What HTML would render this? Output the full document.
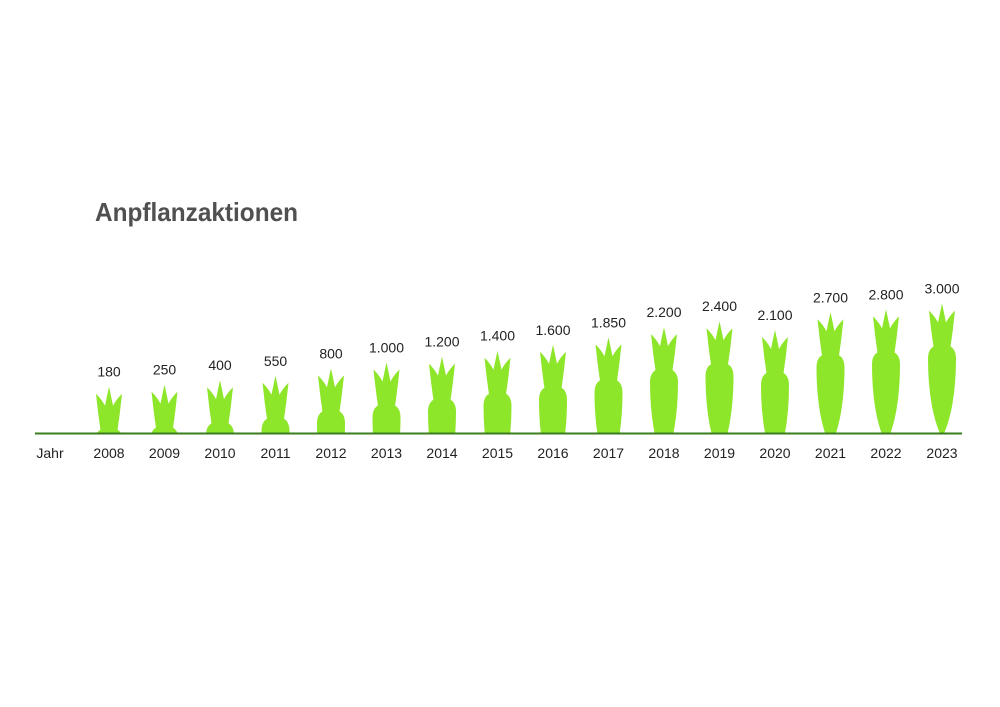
<!DOCTYPE html>
<html><head><meta charset="utf-8"><style>
html,body{margin:0;padding:0;background:#fff;}
svg{display:block;}
text{font-family:"Liberation Sans",sans-serif;}
</style></head><body>
<svg width="1000" height="707" viewBox="0 0 1000 707" xmlns="http://www.w3.org/2000/svg">
<defs>
<clipPath id="c"><rect x="0" y="0" width="1000" height="433"/></clipPath>
<g id="k">
<path d="M-8,6 Q-11,-14 -13,-34 Q-7,-28 -4,-22 Q-2,-32 0,-41 Q2,-32 4,-22 Q7,-28 13,-34 Q11,-14 8,6 Z" fill="#8ee62a"/>
<path d="M-14,14 Q-14,0 0,0 Q14,0 14,14 Q14,40 10,62 Q6,82 0,93 Q-6,82 -10,62 Q-14,40 -14,14 Z" fill="#8ee62a"/>
</g>
</defs>
<text x="95" y="221" font-size="26" font-weight="bold" fill="#505050" textLength="203" lengthAdjust="spacingAndGlyphs">Anpflanzaktionen</text>
<g clip-path="url(#c)">
<use href="#k" transform="translate(109,427.7)"/>
<use href="#k" transform="translate(164.5,425.6)"/>
<use href="#k" transform="translate(220,421.2)"/>
<use href="#k" transform="translate(275.5,416.8)"/>
<use href="#k" transform="translate(331,409.4)"/>
<use href="#k" transform="translate(386.5,403.5)"/>
<use href="#k" transform="translate(442,397.6)"/>
<use href="#k" transform="translate(497.5,391.7)"/>
<use href="#k" transform="translate(553,385.8)"/>
<use href="#k" transform="translate(608.5,378.4)"/>
<use href="#k" transform="translate(664,368.1)"/>
<use href="#k" transform="translate(719.5,362.2)"/>
<use href="#k" transform="translate(775,371)"/>
<use href="#k" transform="translate(830.5,353.3)"/>
<use href="#k" transform="translate(886,350.4)"/>
<use href="#k" transform="translate(942,344.5)"/>
</g>
<line x1="35" y1="433.5" x2="962" y2="433.5" stroke="#3a7d1e" stroke-width="2"/>
<g font-size="14" fill="#222" text-anchor="middle">
<text x="109" y="376.7">180</text>
<text x="164.5" y="374.6">250</text>
<text x="220" y="370.2">400</text>
<text x="275.5" y="365.8">550</text>
<text x="331" y="358.4">800</text>
<text x="386.5" y="352.5">1.000</text>
<text x="442" y="346.6">1.200</text>
<text x="497.5" y="340.7">1.400</text>
<text x="553" y="334.8">1.600</text>
<text x="608.5" y="327.4">1.850</text>
<text x="664" y="317.1">2.200</text>
<text x="719.5" y="311.2">2.400</text>
<text x="775" y="320">2.100</text>
<text x="830.5" y="302.3">2.700</text>
<text x="886" y="299.4">2.800</text>
<text x="942" y="293.5">3.000</text>
</g>
<g font-size="14" fill="#222" text-anchor="middle">
<text x="50" y="458">Jahr</text>
<text x="109" y="458">2008</text>
<text x="164.5" y="458">2009</text>
<text x="220" y="458">2010</text>
<text x="275.5" y="458">2011</text>
<text x="331" y="458">2012</text>
<text x="386.5" y="458">2013</text>
<text x="442" y="458">2014</text>
<text x="497.5" y="458">2015</text>
<text x="553" y="458">2016</text>
<text x="608.5" y="458">2017</text>
<text x="664" y="458">2018</text>
<text x="719.5" y="458">2019</text>
<text x="775" y="458">2020</text>
<text x="830.5" y="458">2021</text>
<text x="886" y="458">2022</text>
<text x="942" y="458">2023</text>
</g>
</svg>
</body></html>
